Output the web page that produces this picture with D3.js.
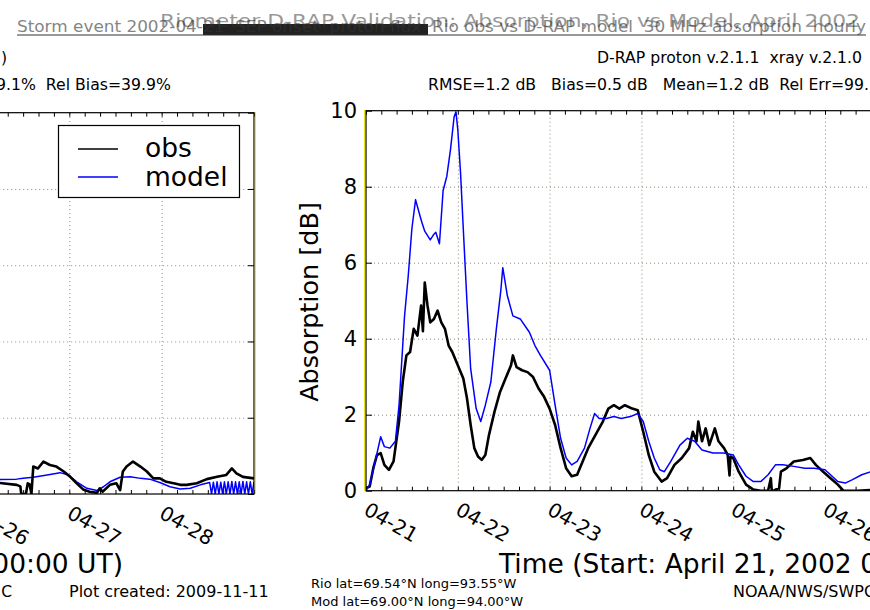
<!DOCTYPE html>
<html>
<head>
<meta charset="UTF-8">
<title>D-RAP Rio validation</title>
<script src="https://d3js.org/d3.v7.min.js"></script>
<style>
  body { margin: 0; background: #fff; }
  svg { display: block; font-family: "DejaVu Sans", sans-serif; }
  text { white-space: pre; }
  .grid line { stroke: #8c8c70; stroke-dasharray: 1,3; }
  .grid path { display: none; }
  .tk path { display: none; }
  .tk line { stroke: #000; }
</style>
</head>
<body>
<svg id="chart" width="870" height="610"></svg>
<script>
// days since 2002-04-21 00:00 UT
const dayLabels = ["04-21", "04-22", "04-23", "04-24", "04-25", "04-26", "04-27", "04-28"];
const yTicks = [0, 2, 4, 6, 8, 10];

// right panel, model (blue)
const modelDay = [0, 0.04, 0.1, 0.16, 0.2, 0.26, 0.32, 0.36, 0.42, 0.46, 0.5, 0.54, 0.58, 0.61, 0.64, 0.7, 0.74, 0.76, 0.8,
  0.84, 0.88, 0.92, 0.96, 0.98, 1.0, 1.03, 1.06, 1.1, 1.14, 1.2, 1.25, 1.3, 1.36, 1.42, 1.47, 1.49, 1.54, 1.6, 1.68,
  1.78, 1.84, 1.9, 2.0, 2.06, 2.12, 2.18, 2.24, 2.3, 2.38, 2.44, 2.49, 2.54, 2.62, 2.7, 2.78, 2.88, 2.96, 3.02, 3.08,
  3.14, 3.2, 3.25, 3.32, 3.42, 3.5, 3.58, 3.66, 3.78, 3.9, 4.0, 4.06, 4.14, 4.22, 4.3, 4.38, 4.46, 4.54, 4.66, 4.78,
  4.88, 5.0, 5.06, 5.14, 5.22, 5.3, 5.4, 5.5];
const modelDb = [0, 0.16, 0.77, 1.42, 1.16, 1.12, 1.3, 2.25, 4.6, 5.65, 6.9, 7.66, 7.3, 7.05, 6.83, 6.6, 6.75, 6.8, 6.5,
  7.9, 8.27, 8.97, 9.84, 9.97, 9.5, 8.36, 6.88, 4.96, 3.21, 2.16, 1.82, 2.25, 2.86, 4.26, 5.3, 5.87, 5.13, 4.6, 4.52,
  4.17, 3.82, 3.56, 3.17, 2.25, 1.38, 0.86, 0.68, 0.77, 1.12, 1.64, 2.03, 1.9, 1.9, 1.95, 1.9, 1.95, 2.03, 1.82, 1.3,
  0.86, 0.55, 0.5, 0.77, 1.2, 1.38, 1.3, 1.07, 0.99, 0.99, 0.94, 0.68, 0.38, 0.24, 0.24, 0.42, 0.68, 0.68, 0.64, 0.59,
  0.59, 0.55, 0.42, 0.24, 0.2, 0.29, 0.42, 0.5];

// right panel, observed (black)
const obsDay = [0, 0.04, 0.08, 0.12, 0.16, 0.2, 0.25, 0.3, 0.36, 0.4, 0.44, 0.48, 0.52, 0.56, 0.6, 0.62, 0.64, 0.67, 0.7,
  0.74, 0.78, 0.82, 0.86, 0.9, 0.94, 1.0, 1.06, 1.1, 1.14, 1.18, 1.22, 1.26, 1.3, 1.34, 1.4, 1.46, 1.52, 1.58, 1.6, 1.64,
  1.7, 1.76, 1.82, 1.88, 1.94, 2.0, 2.06, 2.12, 2.18, 2.24, 2.3, 2.36, 2.42, 2.5, 2.58, 2.64, 2.7, 2.76, 2.82, 2.9,
  2.96, 3.02, 3.08, 3.14, 3.22, 3.28, 3.36, 3.44, 3.52, 3.56, 3.6, 3.62, 3.66, 3.7, 3.74, 3.8, 3.84, 3.9, 3.94, 3.96,
  3.97, 4.0, 4.06, 4.14, 4.22, 4.3, 4.38, 4.41, 4.42, 4.44, 4.5, 4.52, 4.58, 4.66, 4.76, 4.84, 4.9, 4.98, 5.06, 5.14,
  5.2, 5.35, 5.5];
const obsDb = [0.07, 0.11, 0.6, 0.94, 0.99, 0.68, 0.55, 0.77, 1.82, 2.86, 3.56, 3.65, 4.26, 4.08, 4.87, 4.2, 5.48, 4.87,
  4.43, 4.52, 4.74, 4.43, 4.26, 3.82, 3.65, 3.3, 2.95, 2.43, 1.73, 1.12, 0.9, 0.81, 0.94, 1.47, 2.08, 2.6, 2.95, 3.3, 3.56,
  3.25, 3.17, 3.12, 2.99, 2.69, 2.47, 2.16, 1.73, 1.12, 0.59, 0.38, 0.42, 0.77, 1.12, 1.47, 1.82, 2.16, 2.25, 2.16, 2.25,
  2.16, 2.12, 1.55, 0.94, 0.5, 0.24, 0.33, 0.68, 0.86, 1.12, 1.55, 1.3, 1.82, 1.3, 1.64, 1.2, 1.64, 1.3, 1.12, 0.94, 0.4,
  0.9, 0.86, 0.5, 0.16, 0.03, 0, 0, 0.33, 0, 0, 0.07, 0.5, 0.59, 0.77, 0.81, 0.86, 0.68, 0.5, 0.33, 0.16,
  0, 0, 0.02];

// left panel (previous station), only its last days are on the page
const leftModelDay = [5.2, 5.43, 5.5, 5.61, 5.76, 5.9, 5.99, 6.08, 6.19, 6.3, 6.37, 6.44, 6.55, 6.66, 6.77, 6.87, 6.98,
  7.09, 7.2, 7.31, 7.42, 7.52, 7.54, 7.56, 7.58, 7.6, 7.62, 7.64, 7.66, 7.68, 7.7, 7.72, 7.74, 7.76, 7.78, 7.8, 7.82,
  7.84, 7.86, 7.88, 7.9, 7.92, 7.94, 7.96, 7.98, 8.0];
const leftModelDb = [0.38, 0.39, 0.41, 0.44, 0.5, 0.56, 0.5, 0.32, 0.15, 0.09, 0.19, 0.32, 0.44, 0.45, 0.41, 0.39, 0.3,
  0.19, 0.13, 0.15, 0.24, 0.3, 0, 0.31, 0, 0.32, 0, 0.31, 0, 0.32, 0, 0.32, 0, 0.33, 0, 0.32, 0, 0.32, 0, 0.33, 0, 0.32,
  0, 0.32, 0, 0.32];
const leftObsDay = [5.2, 5.43, 5.47, 5.48, 5.53, 5.55, 5.57, 5.59, 5.61, 5.66, 5.72, 5.79, 5.86, 5.94, 6.01, 6.08, 6.15,
  6.22, 6.3, 6.33, 6.36, 6.44, 6.51, 6.55, 6.58, 6.62, 6.69, 6.77, 6.84, 6.91, 6.98, 7.05, 7.13, 7.2, 7.27, 7.38, 7.49,
  7.6, 7.7, 7.76, 7.81, 7.88, 8.0];
const leftObsDb = [0.3, 0.24, 0.2, 0, 0, 0.28, 0.25, 0, 0.72, 0.67, 0.85, 0.76, 0.72, 0.59, 0.45, 0.28, 0.12, 0.06, 0.03,
  0.15, 0.06, 0.24, 0.28, 0.1, 0.59, 0.72, 0.85, 0.72, 0.59, 0.41, 0.41, 0.32, 0.28, 0.24, 0.24, 0.28, 0.39, 0.45,
  0.5, 0.67, 0.54, 0.45, 0.41];

const svg = d3.select("#chart");

function panel(x, y, id) {
  const g = svg.append("g");
  const x0 = x.range()[0], x1 = x.range()[1], y0 = y.range()[0], y1 = y.range()[1];
  g.append("clipPath").attr("id", id).append("rect")
    .attr("x", x0).attr("y", y1).attr("width", x1 - x0).attr("height", y0 - y1);

  // grid
  g.append("g").attr("class", "grid")
    .attr("transform", `translate(0,${y0})`)
    .call(d3.axisBottom(x).tickValues(d3.range(1, 8)).tickSize(-(y0 - y1)).tickFormat(""));
  g.append("g").attr("class", "grid")
    .attr("transform", `translate(${x0},0)`)
    .call(d3.axisLeft(y).tickValues(yTicks.slice(1, -1)).tickSize(-(x1 - x0)).tickFormat(""));

  // ticks, pointing inward on every side
  const minor = d3.range(0, 8.001, 1 / 6);
  g.append("g").attr("class", "tk").attr("transform", `translate(0,${y0})`)
    .call(d3.axisBottom(x).tickValues(minor).tickSize(-4).tickFormat(""));
  g.append("g").attr("class", "tk").attr("transform", `translate(0,${y1})`)
    .call(d3.axisTop(x).tickValues(minor).tickSize(-4).tickFormat(""));
  g.append("g").attr("class", "tk").attr("transform", `translate(${x0},0)`)
    .call(d3.axisLeft(y).tickValues(yTicks).tickSize(-6).tickFormat(""));
  g.append("g").attr("class", "tk").attr("transform", `translate(${x1},0)`)
    .call(d3.axisRight(y).tickValues(yTicks).tickSize(-6).tickFormat(""));

  // day labels, slanted
  g.append("g").selectAll("text")
    .data(d3.range(0, 8))
    .join("text")
    .attr("transform", d => `translate(${x(d) + 4},${y0 + 10}) rotate(30)`)
    .attr("font-size", 20)
    .attr("dominant-baseline", "hanging")
    .text(d => dayLabels[d]);

  const plot = g.append("g").attr("clip-path", `url(#${id})`);
  return { g, plot };
}

function drawLine(plot, x, y, days, vals, color, w) {
  const pts = days.map((d, i) => [d, vals[i]]);
  plot.append("path")
    .datum(pts)
    .attr("fill", "none")
    .attr("stroke", color)
    .attr("stroke-width", w)
    .attr("stroke-linejoin", "round")
    .attr("d", d3.line().x(p => x(p[0])).y(p => y(p[1])));
}

// left panel
const xL = d3.scaleLinear().domain([0, 8]).range([254 - 8 * 92.35, 254]);
const yL = d3.scaleLinear().domain([0, 10]).range([494, 112.7]);
const pL = panel(xL, yL, "clipL");
drawLine(pL.plot, xL, yL, leftModelDay, leftModelDb, "#0000ff", 1.5);
drawLine(pL.plot, xL, yL, leftObsDay, leftObsDb, "#000", 2.6);

// right panel
const xR = d3.scaleLinear().domain([0, 8]).range([366, 366 + 8 * 91.8]);
const yR = d3.scaleLinear().domain([0, 10]).range([490.7, 110.7]);
const pR = panel(xR, yR, "clipR");
drawLine(pR.plot, xR, yR, obsDay, obsDb, "#000", 2.6);
drawLine(pR.plot, xR, yR, modelDay, modelDb, "#0000ff", 1.5);

// spines
[[xL, yL], [xR, yR]].forEach(([x, y]) => {
  svg.append("rect")
    .attr("x", x.range()[0]).attr("y", y.range()[1])
    .attr("width", x.range()[1] - x.range()[0]).attr("height", y.range()[0] - y.range()[1])
    .attr("fill", "none").attr("stroke", "#000").attr("stroke-width", 1.2);
});
svg.append("line").attr("x1", 255.3).attr("x2", 255.3).attr("y1", 112).attr("y2", 494)
  .attr("stroke", "#e8e000").attr("stroke-width", 1);
svg.append("line").attr("x1", 364.6).attr("x2", 364.6).attr("y1", 110).attr("y2", 491)
  .attr("stroke", "#e8e000").attr("stroke-width", 1);

// y tick labels on the right panel
svg.append("g").selectAll("text")
  .data(yTicks)
  .join("text")
  .attr("x", 357).attr("y", d => yR(d))
  .attr("text-anchor", "end").attr("dominant-baseline", "central")
  .attr("font-size", 21)
  .text(d => d);

svg.append("text")
  .attr("transform", `translate(318,302) rotate(-90)`)
  .attr("text-anchor", "middle")
  .attr("font-size", 25.5)
  .text("Absorption [dB]");

// legend (left panel)
const leg = svg.append("g");
leg.append("rect").attr("x", 58.5).attr("y", 125.5).attr("width", 181).attr("height", 72)
  .attr("fill", "#fff").attr("stroke", "#000").attr("stroke-width", 1.2);
[["obs", "#000"], ["model", "#0000ff"]].forEach(([name, c], i) => {
  leg.append("line").attr("x1", 78).attr("x2", 118).attr("y1", 149 + i * 28).attr("y2", 149 + i * 28)
    .attr("stroke", c).attr("stroke-width", 1.5);
  leg.append("text").attr("x", 145).attr("y", 157 + i * 29).attr("font-size", 26.5).text(name);
});

// x titles
svg.append("text").attr("x", 123).attr("y", 573).attr("text-anchor", "end")
  .attr("font-size", 26.5).text("Time (Start: April 21, 2002 00:00 UT)");
svg.append("text").attr("x", 499).attr("y", 573)
  .attr("font-size", 26.5).text("Time (Start: April 21, 2002 00:00 UT)");

// stats lines
const small = (x, y, s, t, anchor) => svg.append("text").attr("x", x).attr("y", y)
  .attr("font-size", s).attr("text-anchor", anchor || "start").text(t);
small(1, 63, 15.7, ")");
small(-4, 90, 15.7, "9.1%  Rel Bias=39.9%");
small(597, 63, 15.7, "D-RAP proton v.2.1.1  xray v.2.1.0");
small(428, 90, 15.7, "RMSE=1.2 dB   Bias=0.5 dB   Mean=1.2 dB  Rel Err=99.1%  Rel Bias=39.9%");

// footers
small(12, 597, 15.5, "C", "end");
small(69, 597, 16, "Plot created: 2009-11-11");
small(311, 588, 13, "Rio lat=69.54\u00b0N long=93.55\u00b0W");
small(311, 606, 13, "Mod lat=69.00\u00b0N long=94.00\u00b0W");
small(733, 597, 16, "NOAA/NWS/SWPC Boulder, CO USA");

// overlapped title block at the top
svg.append("rect").attr("x", 203).attr("y", 24).attr("width", 225).attr("height", 11).attr("fill", "#222");
svg.append("line").attr("x1", 17).attr("x2", 866).attr("y1", 35).attr("y2", 35).attr("stroke", "#333").attr("stroke-width", 1);
svg.append("text").attr("x", 160).attr("y", 27).attr("font-size", 17).attr("fill", "#333").attr("opacity", 0.5)
  .attr("textLength", 700).attr("lengthAdjust", "spacingAndGlyphs")
  .text("Riometer D-RAP Validation: Absorption, Rio vs Model, April 2002");
svg.append("text").attr("x", 17).attr("y", 32).attr("font-size", 15).attr("fill", "#333").attr("opacity", 0.6)
  .attr("textLength", 849).attr("lengthAdjust", "spacingAndGlyphs")
  .text("Storm event 2002-04-21  SEP onset  proton flux  Rio obs vs D-RAP model  30 MHz absorption  hourly");
</script>
</body>
</html>
